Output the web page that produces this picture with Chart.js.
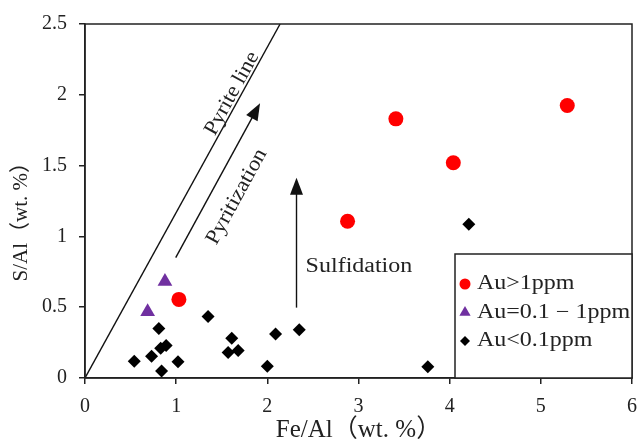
<!DOCTYPE html>
<html>
<head>
<meta charset="utf-8">
<script src="https://cdn.jsdelivr.net/npm/chart.js@4.4.1/dist/chart.umd.min.js"></script>
<style>
  html, body { margin: 0; padding: 0; background: #fff; overflow: hidden; }
  canvas { display: block; }
</style>
</head>
<body>
<canvas id="chart" width="637" height="445"></canvas>
<script>
// ===== Data =====
const highAuFe = [1.03, 2.88, 3.41, 4.04, 5.29];
const highAuS  = [0.555, 1.107, 1.83, 1.52, 1.924];

const midAuFe = [0.687, 0.877];
const midAuS  = [0.467, 0.681];

const lowAuFe = [0.54, 0.73, 0.83, 0.89, 0.84, 0.81, 1.02, 1.35, 1.57, 1.61, 1.68, 2.00, 2.09, 2.35, 3.76, 4.21];
const lowAuS  = [0.118, 0.153, 0.21, 0.23, 0.05, 0.35, 0.114, 0.434, 0.18, 0.28, 0.195, 0.083, 0.31, 0.34, 0.08, 1.085];

// pyrite line (S/Fe of FeS2) end points
const pyriteFe = [0, 2.14];
const pyriteS  = [0, 2.5];

// arrows: [start, tip] in data units
const pyritizationArrow = [[0.995, 0.85], [1.92, 1.94]];
const sulfidationArrow  = [[2.32, 0.497], [2.32, 1.414]];

const xTicks = [0, 1, 2, 3, 4, 5, 6];
const yTicks = [0, 0.5, 1, 1.5, 2, 2.5];

const legendLabels = ["Au>1ppm", "Au=0.1 − 1ppm", "Au<0.1ppm"];

// ===== Styles =====
const SERIF = "'Liberation Serif', 'Noto Sans CJK SC', serif";
const INK = "#222";
const STRETCH = 1.2; // the source figure is a bit wider than tall

function toPoints(xs, ys) {
    return xs.map((x, i) => ({ x: x, y: ys[i] }));
}

// ===== Helpers =====
function stretchText(ctx, text, px, py, angle, align) {
    ctx.save();
    ctx.translate(px, py);
    ctx.rotate(angle);
    ctx.scale(STRETCH, 1);
    ctx.textAlign = align;
    ctx.textBaseline = "middle";
    ctx.fillText(text, 0, 0);
    ctx.restore();
}

function drawArrow(ctx, x0, y0, x1, y1) {
    const ang = Math.atan2(y1 - y0, x1 - x0);
    const head = 17, half = 6.5;
    const bx = x1 - head * Math.cos(ang);
    const by = y1 - head * Math.sin(ang);
    ctx.beginPath();
    ctx.moveTo(x0, y0);
    ctx.lineTo(bx + 2 * Math.cos(ang), by + 2 * Math.sin(ang));
    ctx.stroke();
    ctx.beginPath();
    ctx.moveTo(x1, y1);
    ctx.lineTo(bx + half * Math.sin(ang), by - half * Math.cos(ang));
    ctx.lineTo(bx - half * Math.sin(ang), by + half * Math.cos(ang));
    ctx.closePath();
    ctx.fill();
}

function marker(ctx, style, radius, x, y) {
    if (Chart.helpers && Chart.helpers.drawPoint) {
        Chart.helpers.drawPoint(ctx, { pointStyle: style, radius: radius, rotation: 0, borderWidth: 0 }, x, y);
        return;
    }
    ctx.beginPath();
    ctx.arc(x, y, radius, 0, Math.PI * 2);
    ctx.fill();
}

// ===== Plot box: the source lets the "6" label run to the page edge =====
const plotBoxPlugin = {
    id: "plotBox",
    afterLayout(chart) {
        const x = chart.scales.x;
        const right = chart.width - 5;
        chart.chartArea.right = right;
        chart.chartArea.width = right - chart.chartArea.left;
        x.right = right;
        x.width = right - x.left;
        x.configure();
    }
};

// ===== Notes, frame and legend =====
const notesPlugin = {
    id: "notes",
    afterDatasetsDraw(chart) {
        const { ctx, chartArea: a, scales: { x, y } } = chart;
        ctx.save();

        // frame (top + right sides)
        ctx.strokeStyle = INK;
        ctx.lineWidth = 1.5;
        ctx.strokeRect(a.left, a.top, a.right - a.left, a.bottom - a.top);

        // arrows
        ctx.fillStyle = "#111";
        ctx.strokeStyle = "#111";
        ctx.lineWidth = 1.4;
        [pyritizationArrow, sulfidationArrow].forEach(arr => {
            drawArrow(ctx,
                x.getPixelForValue(arr[0][0]), y.getPixelForValue(arr[0][1]),
                x.getPixelForValue(arr[1][0]), y.getPixelForValue(arr[1][1]));
        });

        // rotated labels, parallel to the pyrite line / arrow
        const lineAng = Math.atan2(
            y.getPixelForValue(pyriteS[1]) - y.getPixelForValue(pyriteS[0]),
            x.getPixelForValue(pyriteFe[1]) - x.getPixelForValue(pyriteFe[0]));
        const arrAng = Math.atan2(
            y.getPixelForValue(pyritizationArrow[1][1]) - y.getPixelForValue(pyritizationArrow[0][1]),
            x.getPixelForValue(pyritizationArrow[1][0]) - x.getPixelForValue(pyritizationArrow[0][0]));

        ctx.fillStyle = INK;
        ctx.font = "21px " + SERIF;
        // sits on the pyrite line at S/Al = 2
        ctx.save();
        ctx.translate(x.getPixelForValue(1.98 * pyriteFe[1] / pyriteS[1]), y.getPixelForValue(1.98));
        ctx.rotate(lineAng);
        ctx.scale(1.06, 1);
        ctx.textAlign = "center";
        ctx.textBaseline = "alphabetic";
        ctx.fillText("Pyrite line", 0, -3);
        ctx.restore();

        ctx.save();
        ctx.translate(x.getPixelForValue(1.665), y.getPixelForValue(1.28));
        ctx.rotate(arrAng);
        ctx.scale(1.08, 1);
        ctx.textAlign = "center";
        ctx.textBaseline = "middle";
        ctx.fillText("Pyritization", 0, 0);
        ctx.restore();

        ctx.font = "20px " + SERIF;
        stretchText(ctx, "Sulfidation", x.getPixelForValue(2.42), y.getPixelForValue(0.787), 0, "left");

        // legend box in the lower right corner
        const boxL = a.right - 177, boxT = a.bottom - 124;
        ctx.fillStyle = "#fff";
        ctx.fillRect(boxL, boxT, a.right - boxL, a.bottom - boxT);
        ctx.strokeStyle = INK;
        ctx.lineWidth = 1.5;
        ctx.strokeRect(boxL, boxT, a.right - boxL, a.bottom - boxT);

        const sets = chart.data.datasets.filter(d => d.type !== "line");
        sets.forEach((d, i) => {
            const cy = boxT + 30 + i * 28.5;
            ctx.fillStyle = d.backgroundColor;
            marker(ctx, d.pointStyle, d.legendRadius, boxL + 10, cy);
            ctx.fillStyle = INK;
            ctx.font = "20px " + SERIF;
            stretchText(ctx, legendLabels[i], boxL + 22, cy, 0, "left");
        });

        ctx.restore();
    }
};

// ===== Chart =====
const tickFont = { family: SERIF, size: 20 };

new Chart(document.getElementById("chart"), {
    type: "scatter",
    data: {
        datasets: [
            {
                label: legendLabels[0],
                data: toPoints(highAuFe, highAuS),
                backgroundColor: "#ff0000",
                pointStyle: "circle",
                pointRadius: 7.5,
                borderWidth: 0,
                legendRadius: 5.5
            },
            {
                label: legendLabels[1],
                data: toPoints(midAuFe, midAuS),
                backgroundColor: "#7030a0",
                pointStyle: "triangle",
                pointRadius: 8.5,
                borderWidth: 0,
                legendRadius: 6.5
            },
            {
                label: legendLabels[2],
                data: toPoints(lowAuFe, lowAuS),
                backgroundColor: "#000000",
                pointStyle: "rectRot",
                pointRadius: 6.5,
                borderWidth: 0,
                legendRadius: 5
            },
            {
                type: "line",
                label: "Pyrite line",
                data: toPoints(pyriteFe, pyriteS),
                borderColor: "#111",
                borderWidth: 1.4,
                pointRadius: 0,
                fill: false
            }
        ]
    },
    options: {
        responsive: false,
        animation: false,
        layout: { padding: { top: 19, right: 5, left: 0, bottom: 0 } },
        plugins: {
            legend: { display: false },
            tooltip: { enabled: false }
        },
        scales: {
            x: {
                type: "linear",
                min: 0,
                max: 6,
                afterBuildTicks: s => { s.ticks = xTicks.map(v => ({ value: v })); },
                afterFit: s => { s.height = 67; },
                grid: { drawOnChartArea: false, drawTicks: true, tickLength: 6, color: INK, lineWidth: 1.5 },
                border: { display: true, color: INK, width: 1.5 },
                ticks: { color: INK, font: tickFont, padding: 11, maxRotation: 0, callback: v => String(v) },
                title: {
                    display: true,
                    text: "Fe/Al（wt. %）",
                    color: INK,
                    font: { family: SERIF, size: 25 },
                    padding: { top: 0, bottom: 0 }
                }
            },
            y: {
                type: "linear",
                min: 0,
                max: 2.5,
                afterBuildTicks: s => { s.ticks = yTicks.map(v => ({ value: v })); },
                afterFit: s => { s.width = 85; },
                grid: { drawOnChartArea: false, drawTicks: true, tickLength: 6, color: INK, lineWidth: 1.5 },
                border: { display: true, color: INK, width: 1.5 },
                ticks: { color: INK, font: tickFont, padding: 12, callback: v => String(v) },
                title: {
                    display: true,
                    // trailing ideographic spaces nudge the title up, as in the source
                    text: "S/Al（wt. %）\u3000\u3000",
                    color: INK,
                    font: { family: SERIF, size: 21 },
                    padding: { top: 9, bottom: 0 }
                }
            }
        }
    },
    plugins: [plotBoxPlugin, notesPlugin]
});
</script>
</body>
</html>
